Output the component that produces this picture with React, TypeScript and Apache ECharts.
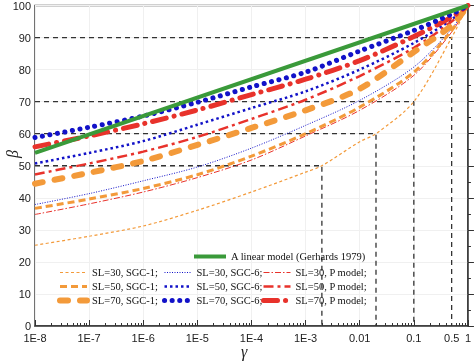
import React, { useEffect, useRef } from 'react';
import * as echarts from 'echarts';

// gamma positions (x) of the read-off points
const gamma = [1e-8, 1e-7, 1e-6, 1e-5, 1e-4, 1e-3, 1e-2, 1e-1, 0.5, 1];
const gammaSL30SGC1 = [1e-8, 1e-7, 1e-6, 1e-5, 1e-4, 1e-3, 2e-3, 1e-2, 2e-2, 1e-1, 0.5, 1];
const gammaLinear = [1e-8, 1];

// beta values (y)
const linearModel = [54, 100];
const sl30sgc1 = [25.2, 28.0, 31.2, 36.1, 41.8, 48.0, 50, 57.5, 60, 70, 90, 100];
const sl50sgc1 = [36.7, 39.6, 42.9, 47.2, 53.0, 60.0, 68.3, 79.2, 92.2, 100];
const sl70sgc1 = [44.4, 47.8, 51.5, 56.5, 61.8, 67.3, 74.0, 85.5, 93.8, 100];
const sl30sgc6 = [37.9, 41.3, 45.3, 49.6, 55.5, 62.6, 70.4, 80.8, 92.7, 100];
const sl50sgc6 = [50.7, 54.0, 57.7, 62.8, 68.0, 73.2, 80.0, 88.3, 95.6, 100];
const sl70sgc6 = [58.8, 62.0, 65.5, 69.8, 74.6, 79.2, 85.8, 92.2, 97.3, 100];
const sl30p = [34.8, 38.1, 41.8, 46.3, 51.8, 59.3, 67.3, 78.2, 91.7, 100];
const sl50p = [47.3, 50.7, 54.4, 59.0, 64.6, 70.6, 78.0, 86.8, 95.0, 100];
const sl70p = [55.9, 59.3, 63.1, 67.4, 72.2, 77.0, 82.8, 90.3, 96.4, 100];

// dashed guide lines
const guideGamma = [0.002, 0.02, 0.1, 0.5];
const guideBeta = [50, 60, 70, 90];

// x tick labels
const xTickGamma = [1e-8, 1e-7, 1e-6, 1e-5, 1e-4, 1e-3, 0.01, 0.1, 0.5, 1];
const xTickLabels = ['1E-8', '1E-7', '1E-6', '1E-5', '1E-4', '1E-3', '0.01', '0.1', '0.5', '1'];

const ORANGE = '#F39A3A';
const BLUE = '#1212C8';
const RED = '#E8322B';
const GREEN = '#3A9A3A';
const SERIF = '"Liberation Serif", "Times New Roman", serif';
const SANS = '"Liberation Sans", Arial, sans-serif';

const pts = (xs: number[], ys: number[]) => xs.map((g, i) => [Math.log10(g), ys[i]]);

const STYLES: Record<string, any> = {
  'A linear model (Gerhards 1979)': { color: GREEN, width: 4, type: 'solid', cap: 'butt' },
  'SL=30, SGC-1;': { color: ORANGE, width: 1.2, type: [3, 2.5], cap: 'butt' },
  'SL=50, SGC-1;': { color: ORANGE, width: 3, type: [7, 4], cap: 'butt' },
  'SL=70, SGC-1;': { color: ORANGE, width: 6, type: [8, 12], cap: 'round' },
  'SL=30, SGC-6;': { color: BLUE, width: 1, type: [1, 1.5], cap: 'butt' },
  'SL=50, SGC-6;': { color: BLUE, width: 2.5, type: [2.5, 3], cap: 'butt' },
  'SL=70, SGC-6;': { color: BLUE, width: 5, type: [0.1, 7.5], cap: 'round' },
  'SL=30, P model;': { color: RED, width: 1, type: [6, 2, 1.5, 2], cap: 'butt' },
  'SL=50, P model;': { color: RED, width: 2.5, type: [10, 4, 3, 4], cap: 'butt' },
  'SL=70, P model;': { color: RED, width: 5, type: [14, 8, 0.1, 8], cap: 'round' },
};

export default function App() {
  const ref = useRef<HTMLDivElement>(null);
  useEffect(() => {
    if (!ref.current) return;
    const chart = echarts.init(ref.current, undefined, { renderer: 'svg' });

    const majorX = xTickGamma.filter((g) => g !== 0.5).map((g) => Math.log10(g));
    const labelX = xTickGamma.map((g) => Math.log10(g));
    const minorX: number[] = [];
    for (let n = -8; n < 0; n++) for (let k = 2; k <= 9; k++) minorX.push(n + Math.log10(k));

    const curve = (name: string, xs: number[], ys: number[], z = 3) => ({
      name,
      type: 'line',
      data: pts(xs, ys),
      symbol: 'none',
      smooth: xs.length > 2 ? 0.3 : false,
      lineStyle: { ...STYLES[name] },
      itemStyle: { color: STYLES[name].color },
      z,
    });

    const guides = guideGamma.map((g, i) => ({
      name: 'guide' + i,
      type: 'line',
      data: [[-8, guideBeta[i]], [Math.log10(g), guideBeta[i]], [Math.log10(g), 0]],
      symbol: 'none',
      lineStyle: { color: '#333', width: 1.3, type: [5, 4] },
      z: 2,
      silent: true,
    }));

    const legendText = { fontFamily: SERIF, fontSize: 10.5, color: '#111' };
    const legendCommon = { padding: 0, itemHeight: 12, itemStyle: { opacity: 0 }, textStyle: legendText, selectedMode: false };
    const ld = (names: string[]) => names.map((n) => ({ name: n, lineStyle: { ...STYLES[n] }, itemStyle: { opacity: 0 } }));

    chart.setOption({
      animation: false,
      grid: { left: 35, right: 2, top: 5, bottom: 37, show: true, borderColor: '#444', borderWidth: 1.5, backgroundColor: 'transparent' },
      xAxis: [
        {
          type: 'value', min: -8, max: 0, interval: 1, position: 'bottom',
          axisLine: { show: true, lineStyle: { color: '#333', width: 1.5 } },
          axisTick: { show: true, inside: true, length: 6, customValues: majorX, lineStyle: { color: '#333', width: 1 } },
          axisLabel: {
            customValues: labelX, margin: 6, fontFamily: SANS, fontSize: 11, color: '#222',
            formatter: (v: number) => {
              let best = 0;
              labelX.forEach((l, i) => { if (Math.abs(l - v) < Math.abs(labelX[best] - v)) best = i; });
              return xTickLabels[best];
            },
          },
          splitLine: { show: true, lineStyle: { color: '#f0f0f0', width: 1 } },
        },
        {
          type: 'value', min: -8, max: 0, interval: 1, position: 'bottom',
          axisLine: { show: false },
          axisTick: { show: true, inside: true, length: 3, customValues: minorX, lineStyle: { color: '#333', width: 1 } },
          axisLabel: { show: false },
          splitLine: { show: false },
        },
      ],
      yAxis: {
        type: 'value', min: 0, max: 100, interval: 10,
        axisLine: { show: true, lineStyle: { color: '#333', width: 1.5 } },
        axisTick: { show: true, inside: true, length: 6, lineStyle: { color: '#333', width: 1 } },
        minorTick: { show: true, splitNumber: 2, length: 3, lineStyle: { color: '#333', width: 1 } },
        axisLabel: { margin: 4, fontFamily: SANS, fontSize: 11, color: '#222' },
        splitLine: { show: true, lineStyle: { color: '#f0f0f0', width: 1 } },
      },
      legend: [
        { ...legendCommon, data: ld(['A linear model (Gerhards 1979)']), left: 192, top: 251, itemWidth: 32 },
        { ...legendCommon, data: ld(['SL=30, SGC-1;', 'SL=50, SGC-1;', 'SL=70, SGC-1;']), orient: 'vertical', left: 57, top: 267, itemWidth: 27, itemGap: 3 },
        { ...legendCommon, data: ld(['SL=30, SGC-6;', 'SL=50, SGC-6;', 'SL=70, SGC-6;']), orient: 'vertical', left: 162, top: 267, itemWidth: 27, itemGap: 3 },
        { ...legendCommon, data: ld(['SL=30, P model;', 'SL=50, P model;', 'SL=70, P model;']), orient: 'vertical', left: 261, top: 267, itemWidth: 27, itemGap: 3 },
      ],
      graphic: [
        { type: 'text', x: 4, y: 158, rotation: Math.PI / 2, style: { text: 'β', font: 'italic 16px "Liberation Serif", serif', fill: '#222' } },
        { type: 'text', x: 241, y: 343, style: { text: 'γ', font: 'italic 16px "Liberation Serif", serif', fill: '#222' } },
      ],
      series: [
        ...guides,
        curve('SL=30, SGC-1;', gammaSL30SGC1, sl30sgc1),
        curve('SL=30, SGC-6;', gamma, sl30sgc6),
        curve('SL=30, P model;', gamma, sl30p),
        curve('SL=50, SGC-1;', gamma, sl50sgc1),
        curve('SL=50, SGC-6;', gamma, sl50sgc6),
        curve('SL=50, P model;', gamma, sl50p),
        curve('SL=70, SGC-1;', gamma, sl70sgc1),
        curve('SL=70, P model;', gamma, sl70p),
        curve('SL=70, SGC-6;', gamma, sl70sgc6),
        curve('A linear model (Gerhards 1979)', gammaLinear, linearModel, 4),
      ],
    });
    return () => chart.dispose();
  }, []);
  return <div ref={ref} style={{ position: 'fixed', left: 0, top: 0, width: 474, height: 363 }} />;
}
